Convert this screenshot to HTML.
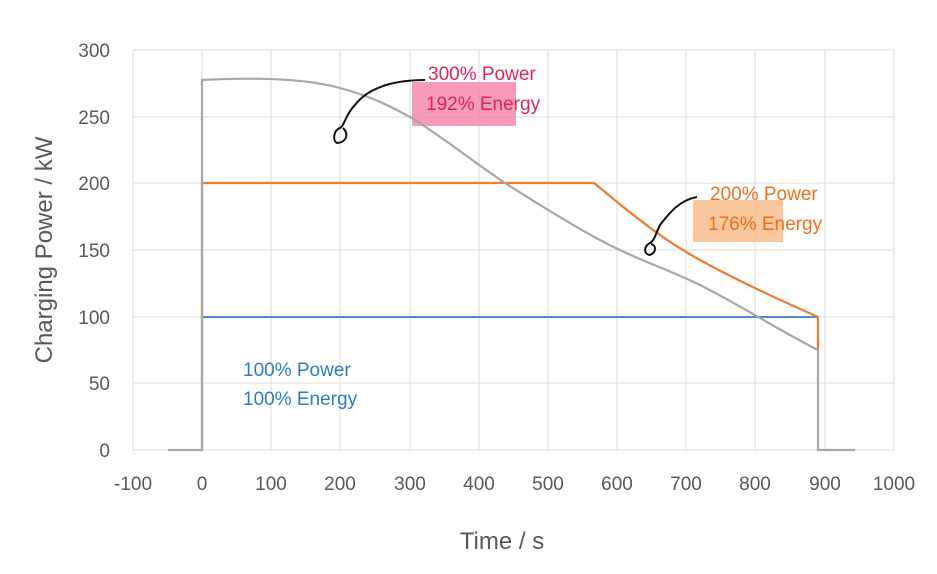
<!DOCTYPE html>
<html><head><style>
body{margin:0;background:#fff;}
svg text{font-family:"Liberation Sans",sans-serif;}
.t{fill:#595959;font-size:19px;}
.h{font-family:"DejaVu Sans","Liberation Sans",sans-serif;font-size:19px;}
</style></head><body>
<svg width="937" height="569" xmlns="http://www.w3.org/2000/svg">
<g stroke="#e3e3e3" stroke-width="1.3">
<line x1="133" y1="50" x2="133" y2="450"/><line x1="202" y1="50" x2="202" y2="450"/>
<line x1="271" y1="50" x2="271" y2="450"/><line x1="340" y1="50" x2="340" y2="450"/>
<line x1="410" y1="50" x2="410" y2="450"/><line x1="479" y1="50" x2="479" y2="450"/>
<line x1="548" y1="50" x2="548" y2="450"/><line x1="617" y1="50" x2="617" y2="450"/>
<line x1="686" y1="50" x2="686" y2="450"/><line x1="755" y1="50" x2="755" y2="450"/>
<line x1="825" y1="50" x2="825" y2="450"/><line x1="894" y1="50" x2="894" y2="450"/>
<line x1="133" y1="50" x2="894" y2="50"/><line x1="133" y1="117" x2="894" y2="117"/>
<line x1="133" y1="183" x2="894" y2="183"/><line x1="133" y1="250" x2="894" y2="250"/>
<line x1="133" y1="317" x2="894" y2="317"/><line x1="133" y1="383" x2="894" y2="383"/>
<line x1="133" y1="450" x2="894" y2="450"/>
</g>
<g class="t" text-anchor="end">
<text x="110" y="57">300</text><text x="110" y="124">250</text><text x="110" y="190">200</text>
<text x="110" y="257">150</text><text x="110" y="324">100</text><text x="110" y="390">50</text><text x="110" y="457">0</text>
</g>
<g class="t" text-anchor="middle">
<text x="133" y="490">-100</text><text x="202" y="490">0</text><text x="271" y="490">100</text>
<text x="340" y="490">200</text><text x="410" y="490">300</text><text x="479" y="490">400</text>
<text x="548" y="490">500</text><text x="617" y="490">600</text><text x="686" y="490">700</text>
<text x="755" y="490">800</text><text x="825" y="490">900</text><text x="894" y="490">1000</text>
<text x="502" y="549" font-size="24">Time / s</text>
<text transform="translate(52,250) rotate(-90)" font-size="24">Charging Power  / kW</text>
</g>
<rect x="412" y="82" width="104" height="44" fill="#f07ba0" opacity="0.75"/>
<rect x="693" y="200" width="90" height="42" fill="#f8b884" opacity="0.8"/>
<polyline fill="none" stroke="#4a8ed0" stroke-width="2" points="202,450 202,317 818,317 818,450"/>
<path fill="none" stroke="#ee7c30" stroke-width="2.2" d="M202,450 L202,183 L594,183 C610,196 625,209 640,220 C660,236 680,249 700,260 C740,282 780,300 818,317 L818,350"/>
<path fill="none" stroke="#a8a8a8" stroke-width="2.2" d="M168,450 L202,450 L202,80 C240,78 300,77 340,88 C370,96 390,106 410,117 C440,135 475,163 505,183 C535,202 570,224 600,240 C635,259 665,268 700,285 C740,305 780,331 818,350 L818,450 L855,450"/>
<path fill="none" stroke="#111" stroke-width="2" d="M425,80 C400,80 370,85 355,105 C345,115 345,125 340,128 C334,130 332,140 337,143 C345,143 350,135 343,128"/>
<path fill="none" stroke="#111" stroke-width="2" d="M697,197 C680,200 670,212 660,225 C655,235 655,240 650,243 C644,246 643,254 650,255 C657,252 656,245 651,244"/>
<g class="h" fill="#e0245a"><text x="428" y="80">300% Power</text><text x="426" y="110">192% Energy</text></g>
<g class="h" fill="#ec6f1e"><text x="710" y="200">200% Power</text><text x="708" y="230">176% Energy</text></g>
<g class="h" fill="#2a7dc4"><text x="243" y="376">100% Power</text><text x="243" y="405">100% Energy</text></g>
</svg>
</body></html>
